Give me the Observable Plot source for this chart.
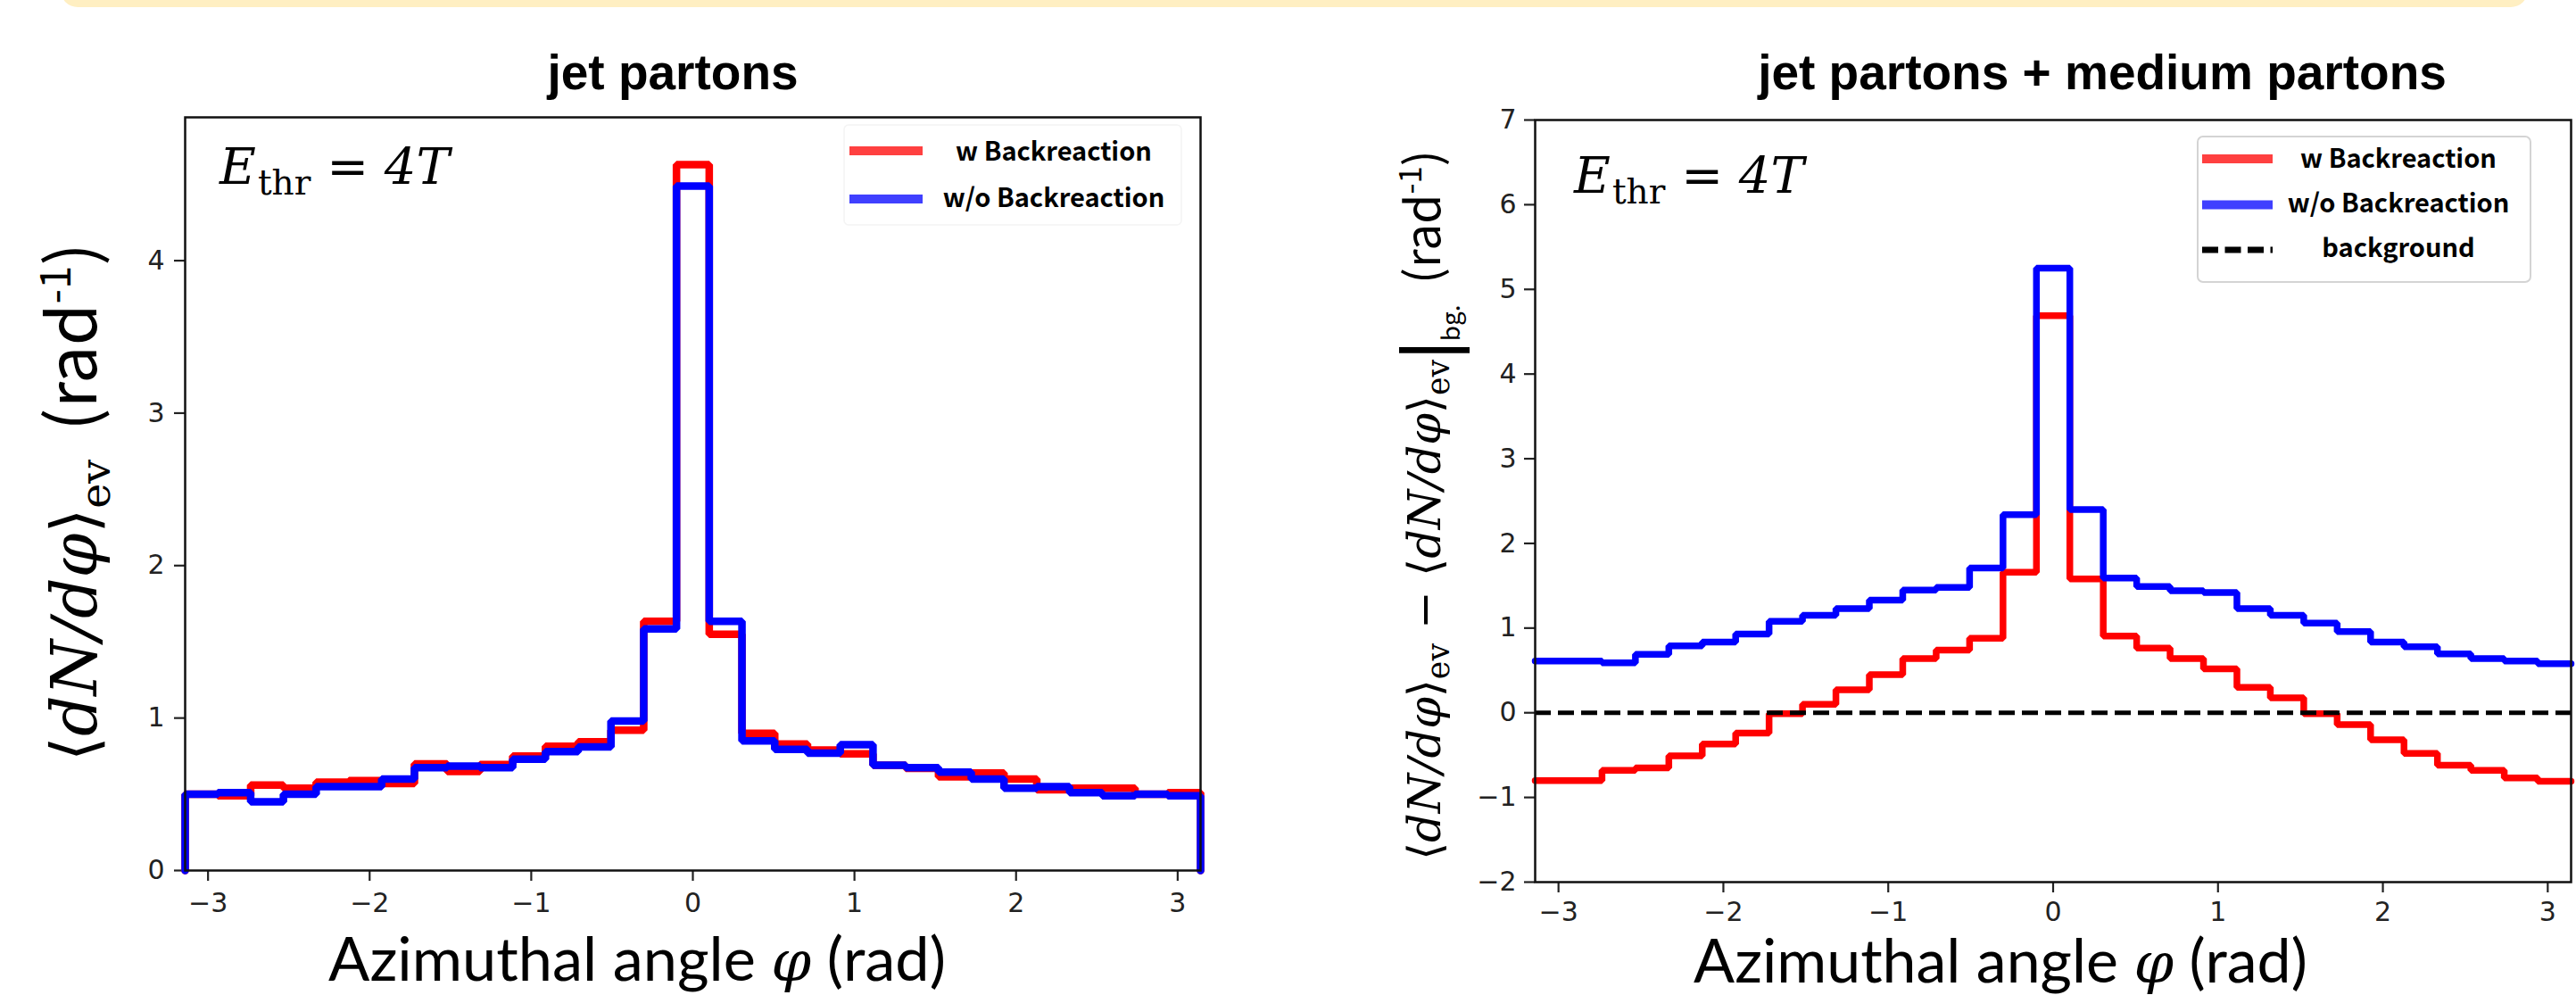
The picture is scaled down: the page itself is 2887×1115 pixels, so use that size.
<!DOCTYPE html>
<html>
<head>
<meta charset="utf-8">
<script src="https://cdn.jsdelivr.net/npm/d3@7"></script>
<script src="https://cdn.jsdelivr.net/npm/@observablehq/plot@0.6"></script>
<style>
html, body { margin: 0; padding: 0; background: #fff; }
#wrap { position: relative; width: 2887px; height: 1115px; overflow: hidden; background: #fff; }
#band { position: absolute; left: 68px; top: -30px; width: 2765px; height: 38px; background: #FFEFC2; border-radius: 22px; z-index: 10; }
.panel { position: absolute; top: 0; }
.panel svg { display: block; }
g[aria-label="x-axis tick"] path, g[aria-label="y-axis tick"] path,
g[aria-label="x-axis"] line, g[aria-label="y-axis"] line { stroke-width: 2.2px; }
</style>
</head>
<body>
<div id="wrap">
  <div id="band"></div>
  <div class="panel" id="left" style="left:0px;width:1440px;height:1115px;"></div>
  <div class="panel" id="right" style="left:1440px;width:1447px;height:1115px;"></div>
</div>
<script>
// ---- data ----
const phiEdges = [-3.1416, -2.9389, -2.7362, -2.5335, -2.3309, -2.1282, -1.9255, -1.7228,
  -1.5201, -1.3174, -1.1148, -0.9121, -0.7094, -0.5067, -0.3040, -0.1013,
  0.1013, 0.3040, 0.5067, 0.7094, 0.9121, 1.1148, 1.3174, 1.5201,
  1.7228, 1.9255, 2.1282, 2.3309, 2.5335, 2.7362, 2.9389, 3.1416];

const jetWith = [0.50, 0.49, 0.56, 0.54, 0.58, 0.59, 0.57, 0.70, 0.65, 0.695, 0.75, 0.815, 0.845, 0.92, 1.635,
  4.63, 1.55, 0.90, 0.83, 0.79, 0.765, 0.69, 0.67, 0.615, 0.64, 0.60, 0.53, 0.54, 0.54, 0.50, 0.51];
const jetWithout = [0.50, 0.51, 0.45, 0.50, 0.55, 0.55, 0.60, 0.675, 0.685, 0.675, 0.73, 0.78, 0.81, 0.98, 1.585,
  4.49, 1.635, 0.85, 0.795, 0.77, 0.825, 0.69, 0.675, 0.645, 0.60, 0.54, 0.55, 0.51, 0.49, 0.50, 0.49];

const allWith = [-0.80, -0.80, -0.68, -0.65, -0.51, -0.37, -0.24, -0.01, 0.10, 0.27, 0.45, 0.64, 0.74, 0.88, 1.66,
  4.69, 1.58, 0.905, 0.765, 0.64, 0.52, 0.30, 0.175, -0.01, -0.14, -0.32, -0.48, -0.62, -0.68, -0.77, -0.81];
const allWithout = [0.61, 0.61, 0.59, 0.69, 0.79, 0.835, 0.93, 1.08, 1.15, 1.23, 1.33, 1.45, 1.48, 1.71, 2.34,
  5.25, 2.40, 1.59, 1.49, 1.44, 1.42, 1.23, 1.15, 1.06, 0.96, 0.835, 0.78, 0.695, 0.64, 0.61, 0.58];
const backgroundLevel = [0];

const xTicks = [-3, -2, -1, 0, 1, 2, 3];
const leftYTicks = [0, 1, 2, 3, 4];
const rightYTicks = [-2, -1, 0, 1, 2, 3, 4, 5, 6, 7];
const leftYDomain = [0, 4.94];
const rightYDomain = [-2, 7];
const titles = ["jet partons", "jet partons + medium partons"];
const legendLabels = ["w Backreaction", "w/o Backreaction", "background"];

// ---- helpers ----
function steps(vals, closed) {
  const n = phiEdges.length - 1;
  const pts = vals.map((v, i) => ({phi: phiEdges[i], v}));
  pts.push({phi: phiEdges[n], v: vals[vals.length - 1]});
  if (closed) {
    pts.unshift({phi: phiEdges[0], v: 0});
    pts.push({phi: phiEdges[n], v: 0});
  }
  return pts;
}

function layer(draw) {
  return () => {
    const g = d3.create("svg:g");
    draw(g);
    return g.node();
  };
}

function rich(g, x, y, parts, attrs = {}) {
  const t = g.append("text").attr("x", x).attr("y", y).attr("text-anchor", "start");
  for (const [k, v] of Object.entries(attrs)) t.attr(k, v);
  for (const p of parts) {
    const s = t.append("tspan").text(p.t);
    if (p.s) s.attr("style", p.s);
    if (p.dy) s.attr("dy", p.dy);
    if (p.dx) s.attr("dx", p.dx);
  }
  return t;
}

// text group scaled after layout so that its width matches the reference
function fitted(parent, transform, width, parts, anchor) {
  const outer = parent.append("g").attr("transform", transform);
  const inner = outer.append("g").attr("class", "fit").attr("data-w", width);
  rich(inner, 0, 0, parts, {"text-anchor": anchor, fill: "black"});
}

function fitAll(root) {
  root.querySelectorAll("g.fit").forEach(g => {
    const target = +g.getAttribute("data-w");
    const bb = g.getBBox();
    if (bb.width > 0) g.setAttribute("transform", `scale(${(target / bb.width).toFixed(4)})`);
  });
}

const SANS = "font-family:'Noto Sans CJK JP','Noto Sans',sans-serif;";
const XSANS = "font-family:Lato,'Noto Sans',sans-serif;";
const MATH = "font-family:'DejaVu Serif',serif;";
const MATHI = MATH + "font-style:italic;";
const TITLEF = "font-family:'Liberation Sans',Arial,sans-serif;font-weight:bold;font-size:55px;";
const LEGF = "font-family:'Noto Sans CJK JP','Noto Sans',sans-serif;font-weight:bold;font-size:29px;";

function ethr(g, x, y) {
  rich(g, x, y, [
    {t: "E", s: MATHI + "font-size:56px;"},
    {t: "thr", s: MATH + "font-size:39px;", dy: 12, dx: 2},
    {t: " = ", s: MATH + "font-size:56px;", dy: -12},
    {t: "4T", s: MATHI + "font-size:56px;"}
  ], {fill: "black"});
}

const xlabelParts = [
  {t: "Azimuthal angle ", s: XSANS + "font-size:62px;"},
  {t: "φ", s: MATHI + "font-size:58px;"},
  {t: " (rad)", s: XSANS + "font-size:62px;"}
];

function legendEntries(g, lx0, lx1, tx, rows) {
  rows.forEach(r => {
    g.append("line").attr("x1", lx0).attr("x2", lx1).attr("y1", r.ly).attr("y2", r.ly)
      .attr("stroke", r.color).attr("stroke-width", r.w).attr("stroke-dasharray", r.dash || null);
    g.append("text").attr("x", tx).attr("y", r.ty).attr("text-anchor", "middle")
      .attr("style", LEGF).attr("fill", "black").text(r.label);
  });
}

const baseStyle = {fontSize: "30px", fontFamily: "'DejaVu Sans', sans-serif", color: "#222",
  background: "transparent", overflow: "visible", maxWidth: "none"};

// ---- left panel ----
const left = Plot.plot({
  width: 1440, height: 1115,
  marginLeft: 207, marginRight: 95, marginTop: 131, marginBottom: 140,
  style: baseStyle,
  x: {domain: [phiEdges[0], phiEdges[phiEdges.length - 1]], ticks: xTicks, tickFormat: "d", tickSize: 12, tickPadding: 13, label: null},
  y: {domain: leftYDomain, ticks: leftYTicks, tickFormat: "d", tickSize: 12, tickPadding: 11, label: null},
  marks: [
    Plot.line(steps(jetWith, true), {x: "phi", y: "v", curve: "step-after", stroke: "#ff0000", strokeWidth: 8.5, strokeLinejoin: "miter"}),
    Plot.line(steps(jetWithout, true), {x: "phi", y: "v", curve: "step-after", stroke: "#0000ff", strokeWidth: 8.5, strokeLinejoin: "miter"}),
    Plot.frame({stroke: "#111", strokeWidth: 2.5}),
    layer(g => {
      g.append("text").attr("x", 754).attr("y", 100).attr("text-anchor", "middle")
        .attr("style", TITLEF).attr("fill", "black").text(titles[0]);
      ethr(g, 246, 206);
      fitted(g, "translate(714,1099)", 692, xlabelParts, "middle");
      fitted(g, "translate(108,562.5) rotate(-90)", 581, [
        {t: "⟨", s: MATH + "font-size:66px;"},
        {t: "dN/dφ", s: MATHI + "font-size:66px;"},
        {t: "⟩", s: MATH + "font-size:66px;"},
        {t: "ev", s: MATH + "font-size:44px;", dy: 14},
        {t: " (rad", s: SANS + "font-size:70px;", dy: -14, dx: 14},
        {t: "-1", s: SANS + "font-size:44px;", dy: -27},
        {t: ")", s: SANS + "font-size:70px;", dy: 27}
      ], "middle");
      g.append("rect").attr("x", 946).attr("y", 140).attr("width", 378).attr("height", 112)
        .attr("fill", "none").attr("stroke", "#f4f4f4").attr("stroke-width", 1.5).attr("rx", 5);
      legendEntries(g, 952, 1034, 1181, [
        {label: legendLabels[0], color: "#ff4040", w: 10, ly: 169, ty: 180},
        {label: legendLabels[1], color: "#4040ff", w: 10, ly: 223, ty: 232}
      ]);
    })
  ]
});
document.getElementById("left").appendChild(left);

// ---- right panel ----
const OX = 1440;
const right = Plot.plot({
  width: 1447, height: 1115,
  marginLeft: 280, marginRight: 6, marginTop: 134, marginBottom: 127,
  style: baseStyle,
  x: {domain: [phiEdges[0], phiEdges[phiEdges.length - 1]], ticks: xTicks, tickFormat: "d", tickSize: 12, tickPadding: 10, label: null},
  y: {domain: rightYDomain, ticks: rightYTicks, tickFormat: "d", tickSize: 12, tickPadding: 9, label: null},
  marks: [
    Plot.line(steps(allWith, false), {x: "phi", y: "v", curve: "step-after", stroke: "#ff0000", strokeWidth: 7.5, strokeLinejoin: "miter"}),
    Plot.line(steps(allWithout, false), {x: "phi", y: "v", curve: "step-after", stroke: "#0000ff", strokeWidth: 7.5, strokeLinejoin: "miter"}),
    Plot.ruleY(backgroundLevel, {stroke: "black", strokeWidth: 5, strokeDasharray: "18,8"}),
    Plot.frame({stroke: "#111", strokeWidth: 2.5}),
    layer(g => {
      g.append("text").attr("x", 2356 - OX).attr("y", 100).attr("text-anchor", "middle")
        .attr("style", TITLEF).attr("fill", "black").text(titles[1]);
      ethr(g, 1764 - OX, 216);
      fitted(g, `translate(${2242 - OX},1101)`, 688, xlabelParts, "middle");
      fitted(g, `translate(${1614 - OX},566) rotate(-90)`, 796, [
        {t: "⟨", s: MATH + "font-size:44px;"},
        {t: "dN/dφ", s: MATHI + "font-size:44px;"},
        {t: "⟩", s: MATH + "font-size:44px;"},
        {t: "ev", s: MATH + "font-size:30px;", dy: 9},
        {t: " − ", s: MATH + "font-size:44px;", dy: -9},
        {t: "⟨", s: MATH + "font-size:44px;"},
        {t: "dN/dφ", s: MATHI + "font-size:44px;"},
        {t: "⟩", s: MATH + "font-size:44px;"},
        {t: "ev", s: MATH + "font-size:30px;", dy: 9},
        {t: "|", s: SANS + "font-size:60px;font-weight:bold;", dy: 2},
        {t: "bg.", s: SANS + "font-size:24px;", dy: 8},
        {t: " (rad", s: SANS + "font-size:46px;", dy: -19, dx: 10},
        {t: "-1", s: SANS + "font-size:30px;", dy: -18},
        {t: ")", s: SANS + "font-size:46px;", dy: 18}
      ], "middle");
      g.append("rect").attr("x", 2463 - OX).attr("y", 153).attr("width", 373).attr("height", 163)
        .attr("fill", "white").attr("fill-opacity", 0.85).attr("stroke", "#d4d4d4").attr("stroke-width", 2).attr("rx", 6);
      legendEntries(g, 2468 - OX, 2547 - OX, 2688 - OX, [
        {label: legendLabels[0], color: "#ff4040", w: 10, ly: 178, ty: 188},
        {label: legendLabels[1], color: "#4040ff", w: 10, ly: 229.5, ty: 238},
        {label: legendLabels[2], color: "black", w: 7, ly: 280, ty: 288, dash: "18,7.5"}
      ]);
    })
  ]
});
document.getElementById("right").appendChild(right);

fitAll(document.getElementById("wrap"));
</script>
</body>
</html>
